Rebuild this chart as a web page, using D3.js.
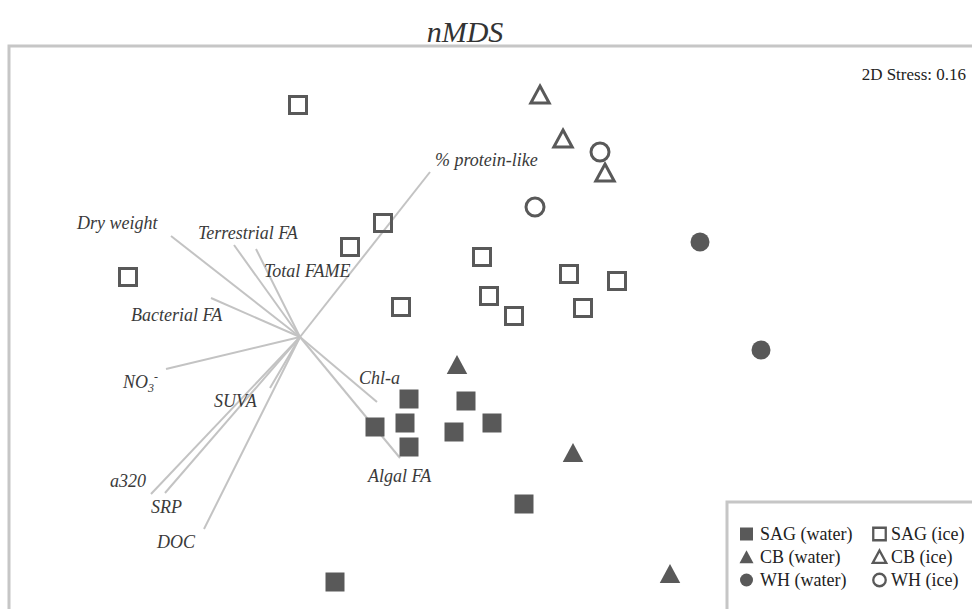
<!DOCTYPE html>
<html>
<head>
<meta charset="utf-8">
<script src="https://cdn.jsdelivr.net/npm/d3@7"></script>
<style>
  body { margin: 0; background: #fff; }
  svg { display: block; }
</style>
</head>
<body>
<svg id="chart" width="972" height="609"></svg>
<script>
// nMDS site scores (axis 1, axis 2) by station and habitat
const sagWater = [[-0.284,-0.276],[-0.056,-0.284],[-0.300,-0.372],[-0.420,-0.388],[0.048,-0.372],[-0.104,-0.408],[-0.284,-0.468],[0.176,-0.696],[-0.580,-1.008]];
const sagIce   = [[-0.728,0.900],[-0.388,0.428],[-0.520,0.332],[-1.408,0.212],[-0.316,0.092],[0.008,0.292],[0.036,0.136],[0.136,0.056],[0.356,0.224],[0.548,0.196],[0.412,0.088]];
const cbWater  = [[-0.092,-0.140],[0.372,-0.492],[0.760,-0.976]];
const cbIce    = [[0.240,0.940],[0.332,0.764],[0.500,0.628]];
const whWater  = [[0.880,0.352],[1.124,-0.080]];
const whIce    = [[0.480,0.712],[0.220,0.492]];

const groupNames = ["SAG (water)", "SAG (ice)", "CB (water)", "CB (ice)", "WH (water)", "WH (ice)"];
const groupScores = [sagWater, sagIce, cbWater, cbIce, whWater, whIce];

// Environmental fitted vectors: common origin and tip of each arrow
const vectorOrigin = [-0.720, -0.028];
const vectorNames = ["% protein-like", "Dry weight", "Terrestrial FA", "Total FAME", "Bacterial FA", "NO3-", "SUVA", "a320", "SRP", "DOC", "Chl-a", "Algal FA"];
const vectorTips = [[-0.200,0.632],[-1.236,0.376],[-0.984,0.340],[-0.896,0.324],[-1.076,0.128],[-1.256,-0.156],[-0.840,-0.232],[-1.316,-0.656],[-1.260,-0.652],[-1.104,-0.796],[-0.412,-0.288],[-0.320,-0.512]];

const stressText = "2D Stress: 0.16";
const titleText = "nMDS";

// ---- layout ----
const W = 972, H = 609;
const svg = d3.select("#chart");
const x = d3.scaleLinear().domain([-1.92, 1.968]).range([0, W]);
const y = d3.scaleLinear().domain([1.32, -1.116]).range([0, H]);

const markColor = "#595959";
const vecColor = "#c3c3c3";
const frameColor = "#c6c6c6";
const serif = "'Liberation Serif', 'Times New Roman', serif";

// label placement relative to each vector tip (pixels, baseline of text start)
const labelOffset = {
  "% protein-like": [5, -6],
  "Dry weight": [-94, -7],
  "Terrestrial FA": [-36, -6],
  "Total FAME": [8, 28],
  "Bacterial FA": [-80, 23],
  "NO3-": [-43, 19],
  "SUVA": [-56, 19],
  "a320": [-41, -7],
  "SRP": [-14, 20],
  "DOC": [-47, 19],
  "Chl-a": [-18, -18],
  "Algal FA": [-32, 24]
};

// title
svg.append("text")
  .attr("x", 465).attr("y", 42)
  .attr("text-anchor", "middle")
  .style("font-family", serif).style("font-style", "italic")
  .style("font-size", "30px").attr("fill", "#333")
  .text(titleText);

// plot frame (open to the right and bottom edges)
svg.append("rect")
  .attr("x", 9).attr("y", 46).attr("width", W + 20).attr("height", H)
  .attr("fill", "none").attr("stroke", frameColor).attr("stroke-width", 3);

// stress annotation
svg.append("text")
  .attr("x", 966).attr("y", 80).attr("text-anchor", "end")
  .style("font-family", serif).style("font-size", "17px").attr("fill", "#222")
  .text(stressText);

// vectors
const vecs = vectorNames.map((n, i) => ({ name: n, tip: vectorTips[i] }));
svg.append("g").selectAll("line").data(vecs).join("line")
  .attr("x1", x(vectorOrigin[0])).attr("y1", y(vectorOrigin[1]))
  .attr("x2", d => x(d.tip[0])).attr("y2", d => y(d.tip[1]))
  .attr("stroke", vecColor).attr("stroke-width", 2);

const lbl = svg.append("g")
  .style("font-family", serif).style("font-style", "italic")
  .style("font-size", "18px").attr("fill", "#3a3a3a");
vecs.forEach(d => {
  const off = labelOffset[d.name];
  const t = lbl.append("text")
    .attr("x", x(d.tip[0]) + off[0])
    .attr("y", y(d.tip[1]) + off[1]);
  if (d.name === "NO3-") {
    t.append("tspan").text("NO");
    t.append("tspan").attr("dy", 4).style("font-size", "12px").text("3");
    t.append("tspan").attr("dy", -11).style("font-size", "12px").text("-");
  } else {
    t.text(d.name);
  }
});

// marker shapes
function shapePath(kind, s) {
  const h = s / 2;
  if (kind === "square") return `M${-h},${-h}H${h}V${h}H${-h}Z`;
  if (kind === "triangle") return `M0,${-h * 1.05}L${h * 1.08},${h * 0.95}L${-h * 1.08},${h * 0.95}Z`;
  return d3.arc()({ innerRadius: 0, outerRadius: h, startAngle: 0, endAngle: 2 * Math.PI });
}
const groupShape = ["square", "square", "triangle", "triangle", "circle", "circle"];
const groupFilled = [true, false, true, false, true, false];

const pts = svg.append("g");
groupScores.forEach((arr, gi) => {
  const filled = groupFilled[gi];
  const size = filled ? 19 : 17;
  pts.selectAll(null).data(arr).join("path")
    .attr("transform", d => `translate(${x(d[0])},${y(d[1])})`)
    .attr("d", shapePath(groupShape[gi], groupShape[gi] === "circle" ? (filled ? 19 : 18) : size))
    .attr("fill", filled ? markColor : "none")
    .attr("stroke", filled ? "none" : markColor)
    .attr("stroke-width", 3);
});

// legend
const lg = svg.append("g");
lg.append("rect")
  .attr("x", 727).attr("y", 502).attr("width", 300).attr("height", 200)
  .attr("fill", "#fff").attr("stroke", frameColor).attr("stroke-width", 3);
const legCols = [746.5, 879.5];
const legRows = [534, 557, 580];
groupNames.forEach((name, i) => {
  const cx = legCols[i % 2], cy = legRows[Math.floor(i / 2)];
  const filled = groupFilled[i];
  lg.append("path")
    .attr("transform", `translate(${cx},${cy})`)
    .attr("d", shapePath(groupShape[i], filled ? 13 : 12.5))
    .attr("fill", filled ? markColor : "none")
    .attr("stroke", filled ? "none" : markColor)
    .attr("stroke-width", 2.3);
  lg.append("text")
    .attr("x", cx + (i % 2 === 0 ? 13.5 : 11.5)).attr("y", cy + 6)
    .style("font-family", serif).style("font-size", "18px").attr("fill", "#222")
    .text(name);
});
</script>
</body>
</html>
